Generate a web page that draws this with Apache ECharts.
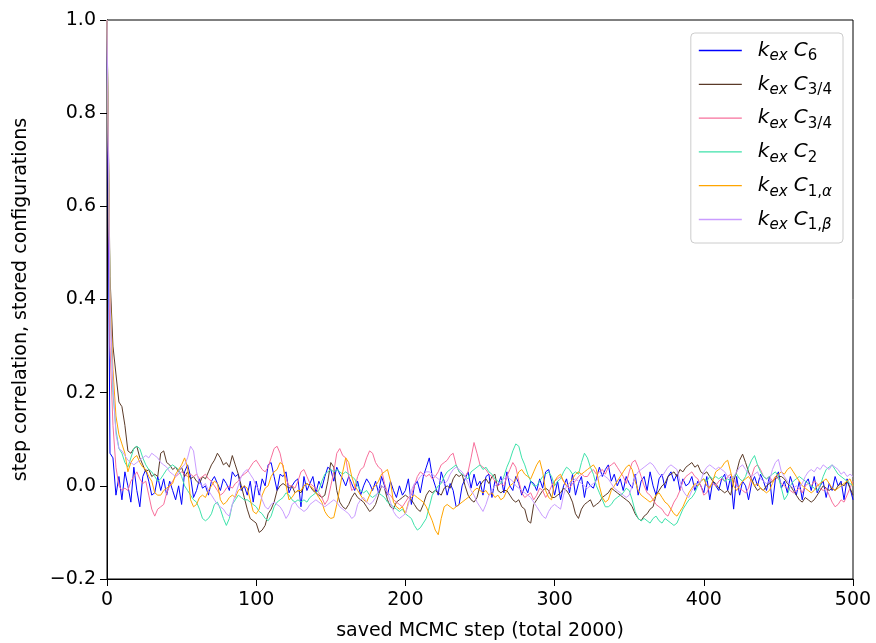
<!DOCTYPE html>
<html><head><meta charset="utf-8">
<script src="https://cdn.jsdelivr.net/npm/echarts@6/dist/echarts.min.js"></script>
<style>html,body{margin:0;padding:0;background:#fff}#c{width:876px;height:643px}</style>
</head><body><div id="c"></div>
<script>
// tick labels
const xTicks = [0, 100, 200, 300, 400, 500];
const yTicks = [-0.2, 0.0, 0.2, 0.4, 0.6, 0.8, 1.0];
// saved MCMC steps (every 2nd step shown)
const steps = [];
for (let s = 0; s <= 500; s += 2) steps.push(s);

const seriesKeys = ['C6', 'C34a', 'C34b', 'C2', 'C1a', 'C1b'];
const legendLabels = {
  C6:   '{i|k}{s|ex} {c|C}{d|6}',
  C34a: '{i|k}{s|ex} {c|C}{d|3/4}',
  C34b: '{i|k}{s|ex} {c|C}{d|3/4}',
  C2:   '{i|k}{s|ex} {c|C}{d|2}',
  C1a:  '{i|k}{s|ex} {c|C}{d|1,}{s|α}',
  C1b:  '{i|k}{s|ex} {c|C}{d|1,}{s|β}'
};
const colors = ['#0000ff', '#5a3a28', '#f7709c', '#3ee2aa', '#ffa500', '#c99cff'];

const kexC6 = [
1.0,.07,.06,-.02,.02,-.03,.03,0,-.035,.04,
-.01,-.045,.02,.035,.01,-.02,-.015,.02,-.01,.015,
-.02,.01,-.01,-.03,0,-.04,.03,.045,.02,-.025,
-.01,.015,-.005,0,-.02,.01,.02,.005,-.01,.015,
.005,-.01,.03,.02,.025,-.01,0,-.02,.01,-.035,
.01,-.02,.015,0,.045,.05,.02,-.01,.025,.02,
.03,-.015,0,.01,.015,-.045,.02,-.01,.005,.02,
-.015,.01,-.005,.02,.04,.035,.01,.04,.025,.015,
0,.02,.005,-.01,.01,-.02,0,.015,.005,-.01,
.01,-.015,.02,0,-.02,.01,-.01,-.025,0,-.02,
-.01,.015,-.04,0,.01,-.015,.02,.04,.06,.02,
0,-.02,.03,.01,-.02,.005,-.01,-.045,-.04,0,
.015,.03,-.005,.025,0,.01,-.02,.02,.025,-.025,
.01,0,.02,-.015,.03,0,-.01,.02,.005,-.02,
0,-.015,.01,.005,-.01,.015,-.005,.03,.035,.01,
-.02,.01,-.03,0,.015,-.015,.025,-.02,.005,.02,
-.025,.01,0,-.005,.015,.04,.02,.035,.045,.01,
.025,0,.015,-.01,.02,.005,-.005,.025,-.02,.01,
.02,-.01,.03,0,-.02,.015,.025,-.005,.02,.03,
.01,.025,-.01,.015,0,.005,.02,-.01,.01,0,
-.015,.02,-.03,.01,0,-.01,.015,.025,-.01,.02,
-.05,.02,-.02,.01,0,-.03,.005,.02,0,.025,
.01,-.01,.02,-.04,.015,.03,-.005,.01,-.015,.02,
0,-.02,.01,-.03,.005,.015,-.01,.02,-.015,0,
.01,-.025,.005,-.01,.02,0,.01,-.03,.015,-.005,
-.03];

const kexC34a = [
1.0,.45,.30,.24,.18,.17,.13,.075,.07,.08,
.085,.06,.045,.03,.035,.02,.025,.02,.07,.075,
.05,.045,.035,.04,.03,.04,.02,.03,.015,.02,
.01,.005,.02,.015,.03,.045,.055,.07,.06,.045,
.05,.04,.065,.045,.025,0,-.025,-.05,-.07,-.075,
-.08,-.1,-.095,-.085,-.06,-.05,-.035,-.01,0,.005,
0,-.005,0,-.015,-.01,-.015,0,.005,0,-.01,
-.015,-.02,-.025,-.02,.01,.05,.04,-.01,-.035,-.045,
-.05,-.04,-.025,-.015,-.025,-.03,-.035,-.045,-.055,-.05,
-.04,-.02,0,-.005,-.03,-.045,-.05,-.035,-.03,-.025,
-.02,-.025,-.03,-.04,-.05,-.055,-.04,-.02,-.01,-.015,
-.01,-.015,-.02,-.005,0,-.005,.015,.025,.02,.025,
0,-.02,-.03,-.035,-.025,0,.01,.015,.005,.02,
.025,-.01,-.015,-.01,-.01,-.02,-.03,-.035,-.03,-.045,
-.05,-.075,-.08,-.04,-.03,-.02,-.01,-.005,-.01,-.025,
-.025,-.02,-.015,-.005,-.01,-.02,-.035,-.06,-.07,-.05,
-.04,-.035,-.03,-.045,-.04,-.035,-.025,-.02,-.015,-.005,
-.01,-.015,-.02,-.025,-.03,-.035,-.045,-.06,-.07,-.075,
-.065,-.06,-.05,-.045,-.02,-.01,0,.005,.02,.025,
.03,.02,.035,.03,.04,.045,.05,.04,.045,.03,
.025,.03,.02,.01,.005,-.005,-.01,-.015,-.01,-.02,
.01,.03,.055,.068,.05,.03,.015,0,-.01,-.005,
-.01,0,.005,.01,.015,.02,.02,.015,.005,0,
-.01,-.02,-.03,-.035,-.025,-.03,-.035,-.03,-.02,-.01,
0,-.005,-.01,-.005,-.01,0,.005,0,.01,-.005,
-.02];

const kexC34b = [
1.0,.3,.13,.04,0,-.01,-.005,-.01,.01,.02,
.03,.015,.005,.01,-.02,-.05,-.065,-.05,-.045,-.04,
-.015,0,.01,.02,.025,.03,.025,.02,.025,.02,
.025,.015,.02,.025,.015,.01,0,-.01,-.02,-.015,
-.005,0,-.005,.005,.01,.02,.025,.03,.04,.05,
.055,.045,.035,.03,.04,.06,.08,.085,.07,.04,
.015,0,0,-.005,.01,.03,.035,.02,.005,0,
-.005,-.015,-.025,-.04,-.03,0,.03,.07,.08,.065,
.06,.02,-.01,-.005,.02,.035,.04,.06,.075,.07,
.05,.04,.035,.005,-.015,-.02,-.03,-.035,-.04,-.045,
-.035,-.025,-.02,0,.02,.03,.025,.02,.025,.015,
.02,.03,.045,.05,.055,.065,.07,.045,.03,.025,
.02,.03,.06,.093,.07,.045,.04,.035,.025,.02,
.01,0,.005,0,.02,.035,.05,.04,.01,-.015,
-.025,-.02,-.015,-.03,-.02,-.005,-.01,-.025,-.015,0,
.01,.015,.02,.01,0,-.005,.005,.01,.02,.025,
.02,.02,.03,.035,.025,.03,.035,.025,.04,.045,
.05,.04,.03,.02,.005,.03,.05,.055,.04,.02,
0,-.015,-.02,-.03,-.04,-.045,-.05,-.06,-.065,-.05,
-.035,-.025,-.01,.01,.02,.025,.03,.02,.015,0,
-.02,-.015,0,.005,0,.01,.015,.01,.02,.025,
.015,0,-.005,-.01,-.015,-.005,.02,.04,.045,.035,
.02,.015,.02,.01,.02,.015,.005,0,-.005,-.01,
-.015,-.01,-.005,-.015,0,.005,0,.01,.005,-.005,
-.01,-.005,-.02,-.035,-.045,-.04,-.03,-.035,-.02,-.005,
.01];

const kexC2 = [
1.0,.42,.2,.12,.08,.07,.05,.04,.06,.08,
.085,.08,.06,.045,.035,.03,.02,.01,.015,.025,
.035,.04,.045,.04,.035,.02,0,-.01,-.02,-.03,
-.035,-.05,-.07,-.075,-.07,-.06,-.04,-.035,-.05,-.07,
-.085,-.07,-.04,-.03,-.02,-.025,-.03,-.03,-.035,-.04,
-.045,-.055,-.06,-.07,-.075,-.065,-.045,-.035,-.03,-.025,
-.015,-.02,-.03,-.035,-.03,-.035,-.03,-.035,-.025,-.02,
-.015,-.01,.01,.025,.03,.035,.03,.035,.03,.025,
.03,.025,.02,.015,0,-.01,-.015,-.01,-.02,-.025,
-.02,-.015,-.02,-.025,-.035,-.04,-.045,-.05,-.055,-.05,
-.06,-.065,-.07,-.085,-.095,-.09,-.08,-.07,-.045,-.02,
-.01,0,.005,.02,.03,.035,.04,.045,.03,.025,
.02,.015,.03,.035,.04,.045,.035,.04,.03,.025,
.015,.01,.005,.02,.04,.055,.075,.09,.085,.06,
.045,.025,.01,0,0,.01,.02,.025,.03,.02,
0,.01,.015,.03,.04,.035,.025,.03,.025,.05,
.07,.06,.04,.025,0,-.015,-.03,-.045,-.045,-.04,
-.03,-.025,-.02,-.015,-.005,-.01,-.03,-.055,-.07,-.075,
-.07,-.075,-.08,-.07,-.065,-.075,-.08,-.07,-.075,-.08,
-.085,-.08,-.065,-.05,-.04,-.03,-.025,-.015,0,.01,
.015,.01,.02,.015,.02,.015,.02,.01,.015,.01,
.02,.025,.015,.01,.02,.04,.055,.065,.045,.03,
.02,.015,.02,.025,.03,.02,-.005,-.03,-.02,0,
.01,.015,.02,.015,.01,.005,0,-.005,-.01,0,
.02,.035,.04,.045,.035,.025,.02,.015,.01,.005,
0];

const kexC1a = [
1.0,.42,.25,.15,.11,.09,.07,.03,.05,.06,
.065,.05,.04,.035,.02,.01,-.015,-.02,-.02,-.01,
-.005,0,.005,.025,.035,.045,.06,.04,-.03,-.045,
-.04,-.025,-.02,-.025,-.01,0,.01,.005,-.03,-.04,
-.035,-.025,-.02,-.025,-.01,-.005,0,-.005,-.03,-.055,
-.06,-.05,-.02,-.005,0,.02,.03,.035,.05,.045,
0,-.03,-.025,-.015,-.01,-.01,0,.005,0,-.005,
-.015,-.025,-.035,-.055,-.065,-.07,-.068,-.04,-.005,.03,
.06,.05,.02,0,-.01,-.02,-.03,-.035,-.02,-.005,
0,.01,.025,.03,.035,.01,-.035,-.045,-.05,-.045,
-.06,-.035,-.025,-.02,-.025,-.03,-.035,-.045,-.06,-.075,
-.095,-.105,-.07,-.045,-.04,-.045,-.05,-.045,-.04,-.035,
-.03,-.025,-.02,-.01,-.005,-.01,-.015,-.01,-.02,-.015,
-.025,-.02,-.03,-.025,-.01,0,.005,.015,.03,.035,
.025,.02,.015,.03,.045,.055,.03,-.01,-.025,-.03,
.01,.02,.025,.01,0,.005,.015,.025,.03,.025,
.03,.035,.04,.045,.035,0,-.025,-.035,-.03,-.01,
0,.01,.02,.03,.04,.045,.035,.01,-.01,-.02,
-.025,-.03,-.035,-.03,-.02,-.015,-.025,-.035,-.04,-.05,
-.06,-.065,-.055,-.045,-.03,-.015,-.005,.005,0,.01,
.015,0,-.005,.01,.03,.035,.04,.05,.055,.03,
0,-.01,0,.01,.015,.02,.01,0,.005,-.005,
-.01,-.015,-.01,.005,.02,.025,.03,.025,.035,.04,
.03,.02,.01,0,-.005,-.01,-.015,-.01,0,.005,
.01,.015,.005,-.005,-.01,-.005,0,.005,.01,.015,
0];

const kexC1b = [
1.0,.4,.22,.11,.08,.075,.065,.055,.05,.045,
.05,.055,.06,.065,.06,.07,.065,.06,.05,.045,
.04,.03,.025,.02,.03,.04,.045,.06,.085,.075,
.03,.005,0,.005,-.01,-.02,-.03,-.04,-.045,-.05,
-.06,-.065,-.04,-.02,0,.02,.03,.035,.025,.015,
0,-.01,-.03,-.045,-.05,-.04,-.035,-.04,-.045,-.055,
-.07,-.06,-.04,-.035,-.045,-.05,-.055,-.05,-.04,-.035,
-.03,-.035,-.04,-.045,-.04,-.035,-.03,-.035,-.045,-.05,
-.055,-.06,-.07,-.065,-.04,-.03,-.025,-.035,-.04,-.035,
-.025,-.01,0,-.005,-.015,-.035,-.055,-.065,-.07,-.065,
-.06,-.04,-.01,.005,.01,.02,.025,.03,.03,.025,
.02,.015,.01,.005,.01,.025,.035,.04,.035,.03,
.02,.005,-.01,-.02,-.035,-.045,-.055,-.04,-.02,-.01,
0,.005,.01,.015,.02,.015,.01,0,-.005,-.01,
-.015,-.02,-.025,-.035,-.045,-.055,-.065,-.07,-.055,-.045,
-.04,-.045,-.05,-.02,0,.005,.01,.015,.01,.005,
0,-.005,0,.005,.01,.02,.025,.02,.015,.005,
-.005,-.01,-.015,-.02,-.025,-.02,0,.02,.03,.035,
.04,.045,.05,.045,.035,.025,.02,.03,.04,.045,
.04,.035,.01,-.01,-.02,-.025,-.01,0,.005,.01,
.03,.04,.045,.04,.035,.04,.035,.03,.02,.015,
.02,.03,.04,.045,.035,.025,.02,.025,.03,.015,
.01,.005,.01,.035,.05,.057,.03,.02,.01,0,
-.005,0,-.005,.005,.02,.03,.035,.03,.04,.035,
.045,.04,.035,.045,.04,.035,.025,.03,.02,.025,
.02];

const seriesValues = [kexC6, kexC34a, kexC34b, kexC2, kexC1a, kexC1b];

const chart = echarts.init(document.getElementById('c'), null, {renderer: 'canvas'});
const FONT = 'DejaVu Sans';
const fmtTick = v => (Math.abs(v) < 1e-9 ? '0.0' : v.toFixed(1).replace('-', '\u2212'));

chart.setOption({
  animation: false,
  backgroundColor: '#ffffff',
  grid: {left: 107, right: 23, top: 20, bottom: 64, outerBoundsMode: 'none', containLabel: false,
         show: true, borderColor: '#000', borderWidth: 1, backgroundColor: 'transparent'},
  xAxis: {
    type: 'value',
    min: xTicks[0], max: xTicks[xTicks.length - 1], interval: xTicks[1] - xTicks[0],
    name: 'saved MCMC step (total 2000)', nameLocation: 'middle', nameGap: 43,
    nameTextStyle: {fontFamily: FONT, fontSize: 19, color: '#000'},
    axisLine: {show: true, onZero: false, lineStyle: {color: '#000', width: 1}},
    axisTick: {show: true, inside: false, length: 7, lineStyle: {color: '#000', width: 1}},
    axisLabel: {fontFamily: FONT, fontSize: 19, color: '#000', margin: 12},
    splitLine: {show: false}
  },
  yAxis: {
    type: 'value',
    min: yTicks[0], max: yTicks[yTicks.length - 1], interval: 0.2,
    name: 'step correlation, stored configurations', nameLocation: 'middle', nameGap: 76, nameRotate: 90,
    nameTextStyle: {fontFamily: FONT, fontSize: 19, color: '#000'},
    axisLine: {show: true, onZero: false, lineStyle: {color: '#000', width: 1}},
    axisTick: {show: true, inside: false, length: 7, lineStyle: {color: '#000', width: 1}},
    axisLabel: {fontFamily: FONT, fontSize: 19, color: '#000', margin: 11, formatter: fmtTick},
    splitLine: {show: false}
  },
  legend: {
    orient: 'vertical', right: 33, top: 33,
    data: seriesKeys.map(k => ({name: k, icon: 'rect'})),
    itemWidth: 43, itemHeight: 1.3, itemGap: 6.8,
    padding: [4, 11, 10, 8],
    backgroundColor: 'rgba(255,255,255,0.8)',
    borderColor: '#cccccc', borderWidth: 1, borderRadius: 4,
    formatter: name => legendLabels[name],
    textStyle: {
      padding: [0, 0, 0, 11],
      rich: {
        i: {fontFamily: FONT, fontStyle: 'italic', fontSize: 20, lineHeight: 26, color: '#000'},
        c: {fontFamily: FONT, fontStyle: 'italic', fontSize: 20, lineHeight: 26, color: '#000', padding: [0, 0, 0, 3]},
        s: {fontFamily: FONT, fontStyle: 'italic', fontSize: 15, lineHeight: 15, padding: [12, 0, 0, 0], color: '#000'},
        d: {fontFamily: FONT, fontSize: 15, lineHeight: 15, padding: [12, 0, 0, 0], color: '#000'}
      }
    }
  },
  series: seriesKeys.map((k, idx) => ({
    name: k,
    type: 'line',
    symbol: 'none',
    smooth: false,
    color: colors[idx],
    lineStyle: {color: colors[idx], width: 1},
    data: steps.map((s, i) => [s, seriesValues[idx][i]]),
    z: 2 + idx
  }))
});
</script>
</body></html>
